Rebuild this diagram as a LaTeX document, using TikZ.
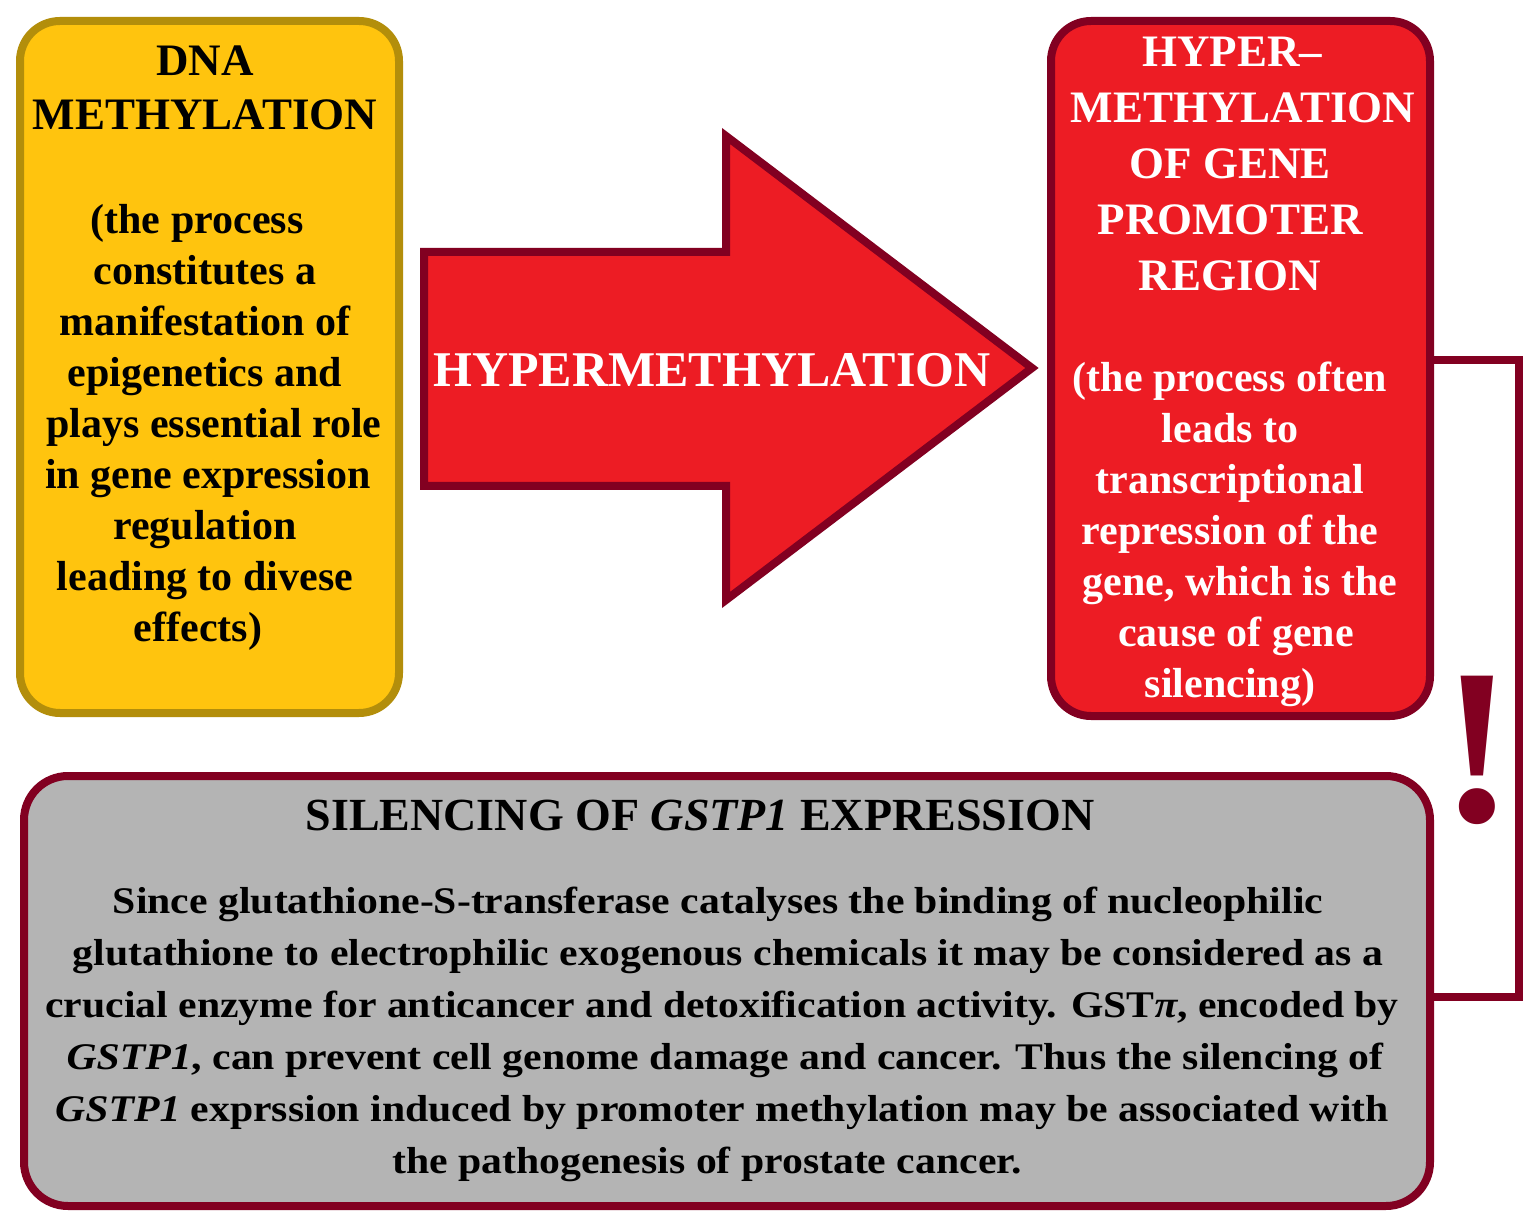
\documentclass[tikz,border=0pt]{standalone}
\usepackage{fontspec}
\setmainfont{Liberation Serif}
\newfontfamily\widefont[FakeStretch=1.11]{Liberation Serif}
\definecolor{ygold}{HTML}{FFC40E}
\definecolor{yborder}{HTML}{B38E0B}
\definecolor{rfill}{HTML}{ED1C24}
\definecolor{dred}{HTML}{820021}
\definecolor{gfill}{HTML}{B4B4B4}
\tikzset{
  box/.style={rounded corners=20pt, line width=4pt, inner sep=0pt},
  ybox/.style={box, fill=ygold, draw=yborder},
  rbox/.style={box, fill=rfill, draw=dred},
  gbox/.style={box, rounded corners=22pt, fill=gfill, draw=dred},
  bigtxt/.style={font=\fontsize{22.5}{27}\selectfont\bfseries, align=center, inner sep=0pt},
  bodytxt/.style={font=\fontsize{21}{25.5}\selectfont\bfseries, align=center, inner sep=0pt},
  graytxt/.style={font=\widefont\fontsize{18.8}{26}\selectfont\bfseries, align=center, inner sep=0pt},
  conn/.style={draw=dred, line width=4pt},
  bigarrow/.style={fill=rfill, draw=dred, line width=4pt, line join=miter},
}
\begin{document}
\begin{tikzpicture}[x=0.5pt, y=-0.5pt]
\useasboundingbox (0,0) rectangle (1537,1224);
\fill[white] (0,0) rectangle (1537,1224);
% boxes
\node[ybox, minimum width=189.5pt, minimum height=346pt] (ybx) at (209.5,367) {};
\node[rbox, minimum width=189.5pt, minimum height=347.5pt] (rbx) at (1240.5,368.5) {};
\node[gbox, minimum width=703pt, minimum height=215pt] (gbx) at (727,991) {};
% big arrow
\draw[bigarrow] (424,252) -- (726,252) -- (726,136) -- (1032,368) -- (726,600) -- (726,486) -- (424,486) -- cycle;
\node[font=\fontsize{25}{30}\selectfont\bfseries, text=white, inner sep=0pt] (hyp) at (712,370) {HYPERMETHYLATION};
% yellow box text
\node[bigtxt, anchor=north] (ytitle) at (205,45) {DNA\\METHYLATION};
\node[bodytxt, anchor=north] (ytext) at (205,204) {(the process\hspace*{8pt}\\constitutes a\hspace*{4pt}\\manifestation of\hspace*{4pt}\\epigenetics and\hspace*{13pt}\\\hspace*{9pt}plays essential role\\\hspace*{3pt}in gene expression\\regulation\hspace*{14pt}\\leading to divese\\effects)\hspace*{7pt}};
% red box text
\node[bigtxt, anchor=north, text=white, font=\fontsize{22.5}{28}\selectfont\bfseries] (rtitle) at (1230,37) {\hspace*{2pt}HYPER–\\\hspace*{13pt}METHYLATION\\OF GENE\\PROMOTER\\REGION};
\node[bodytxt, anchor=north, text=white] (rtext) at (1230,362) {(the process often\\leads to\\transcriptional\hspace*{5pt}\\repression of the\\\hspace*{10pt}gene, which is the\\\hspace*{6pt}cause of gene\\silencing)};
% gray box text
\node[bigtxt, anchor=north, font=\fontsize{23}{27}\selectfont\bfseries] (gtitle) at (700,800) {SILENCING OF \textit{GSTP1} EXPRESSION};
\node[graytxt, anchor=north] (gtext) at (722,887) {Since glutathione-S-transferase catalyses the binding of nucleophilic\hspace*{4pt}\\\hspace*{6pt}glutathione to electrophilic exogenous chemicals it may be considered as a\\crucial enzyme for anticancer and detoxification activity. GST{\itshape π}, encoded by\\\hspace*{3pt}\textit{GSTP1}, can prevent cell genome damage and cancer. Thus the silencing of\\\textit{GSTP1} exprssion induced by promoter methylation may be associated with\\the pathogenesis of prostate cancer.\hspace*{15pt}};
% connector
\coordinate (k1) at (1519,360);
\coordinate (k2) at (1519,997);
\draw[conn] (rbx.east |- k1) -- (k1) -- (k2) -- (gbx.east |- k2);
% exclamation
\node[font=\fontsize{111}{111}\selectfont\bfseries, text=dred, inner sep=0pt] (excl) at (1477,750) {!};
\end{tikzpicture}
\end{document}
